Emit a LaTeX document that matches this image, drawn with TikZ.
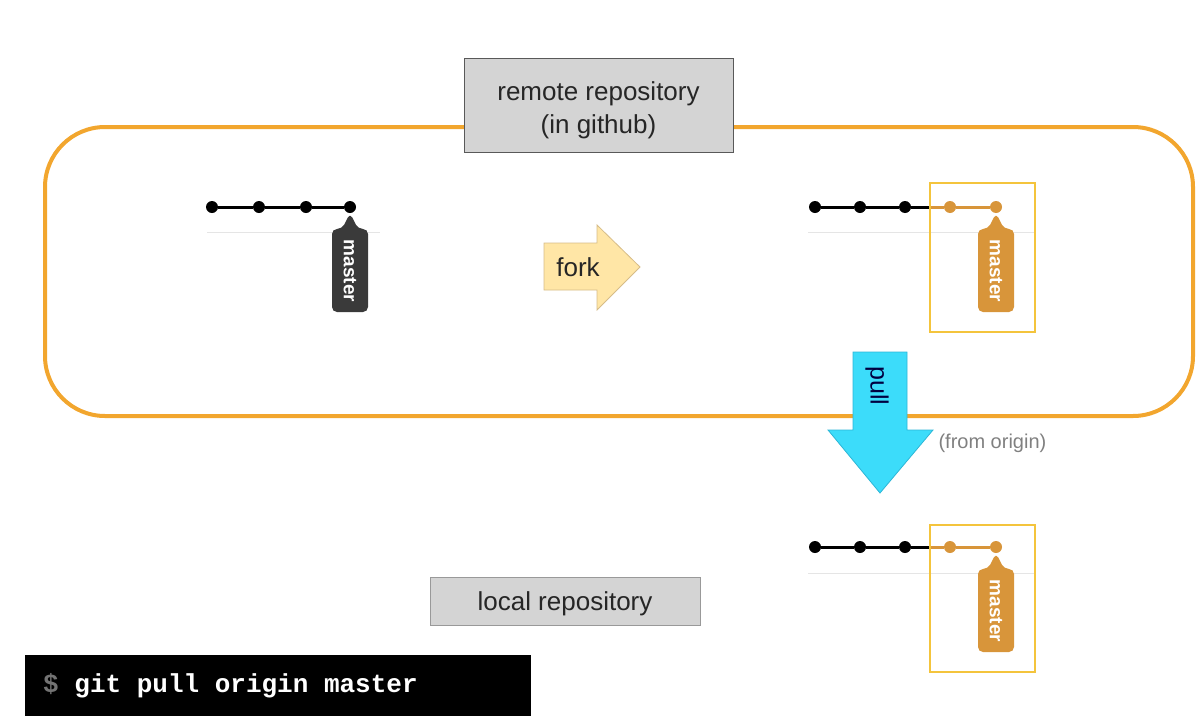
\documentclass[tikz,border=0pt]{standalone}
\usepackage{fontspec}
\setmainfont{Liberation Sans}
\newfontfamily\codefont{Liberation Mono}
\usetikzlibrary{calc}

\definecolor{loopc}{HTML}{F2A62E}
\definecolor{newc}{HTML}{D8953A}
\definecolor{newbox}{HTML}{F4C43C}
\definecolor{tagdark}{HTML}{3A3A3A}
\definecolor{forkfill}{HTML}{FFE6A6}
\definecolor{forkline}{HTML}{D6BC88}
\definecolor{pullfill}{HTML}{3CDCFA}
\definecolor{pullline}{HTML}{2CB6D6}

% branch tag hanging under a commit: #1 commit node, #2 colour
\newcommand\mastertag[2]{%
  \begin{scope}[shift={(#1)}]
    \fill[#2,rounded corners=5pt] (-8,22) -- (0,6) -- (8,22) -- (18,22) -- (18,105) -- (-18,105) -- (-18,22) -- cycle;
    \node (#1tag) [rotate=-90,text=white,font=\bfseries\fontsize{19}{19}\selectfont] at (0,64) {master};
  \end{scope}}
\newcommand\cmdsp{\hspace*{0.6em}}

\begin{document}
\begin{tikzpicture}[
  x=1pt, y=-1pt,
  commit/.style={circle,fill=black,inner sep=0pt,minimum size=12pt},
  newcommit/.style={commit,fill=newc},
  edge/.style={line width=3pt},
  base/.style={line width=1pt,black!10},
  newframe/.style={draw=newbox,line width=2.5pt},
  repo/.style={draw=#1,fill=black!17},
  lbl/.style={text=black!85,font=\fontsize{26}{33}\selectfont,align=center}
]
\useasboundingbox (0,0) rectangle (1200,726);

%========== remote side ==========
\draw[loopc,line width=4pt,rounded corners=60pt] (45,127) rectangle (1193,416);
\node (remote) [repo=black!65,minimum width=269pt,minimum height=94pt] at (598.5,105) {};
\node (remotetxt) [lbl] at ($(remote)+(0,5)$) {remote repository\\(in github)};

% original repository
\draw[base] (207,232) -- (380,232);
\foreach \i/\xx in {1/212,2/259,3/306,4/350}{\node[commit] (a\i) at (\xx,207) {};}
\draw[edge] (a1) -- (a2) -- (a3) -- (a4);
\mastertag{a4}{tagdark}

% fork arrow
\draw[forkline,fill=forkfill,line width=0.8pt]
  (544,243) -- (597,243) -- (597,225) -- (640,267) -- (597,310) -- (597,290) -- (544,290) -- cycle;
\node (fork) [lbl] at (578,267) {fork};

% forked repository
\draw[base] (808,232) -- (1035,232);
\foreach \i/\xx in {1/815,2/860,3/905}{\node[commit] (b\i) at (\xx,207) {};}
\foreach \i/\xx in {4/950,5/996}{\node[newcommit] (b\i) at (\xx,207) {};}
\coordinate (bcut) at (930,207);
\draw[edge] (b1) -- (b2) -- (b3) -- (bcut);
\draw[edge,newc] (bcut) -- (b4) -- (b5);
\mastertag{b5}{newc}
\draw[newframe] (930,183) rectangle (1035,332);

%========== pull ==========
\draw[pullline,fill=pullfill,line width=0.8pt]
  (853,352) -- (907,352) -- (907,430) -- (933,430) -- (880,493) -- (828,430) -- (853,430) -- cycle;
\node (pull) [rotate=-90,text=blue!25!black,font=\fontsize{25}{25}\selectfont] at (877,386) {pull};
\node (origin) [anchor=west,text=black!50,font=\fontsize{20}{20}\selectfont] at (935,443) {(from origin)};

%========== local side ==========
\draw[base] (808,573) -- (1035,573);
\foreach \i/\xx in {1/815,2/860,3/905}{\node[commit] (c\i) at (\xx,547) {};}
\foreach \i/\xx in {4/950,5/996}{\node[newcommit] (c\i) at (\xx,547) {};}
\coordinate (ccut) at (930,547);
\draw[edge] (c1) -- (c2) -- (c3) -- (ccut);
\draw[edge,newc] (ccut) -- (c4) -- (c5);
\mastertag{c5}{newc}
\draw[newframe] (930,525) rectangle (1035,672);

\node (local) [repo=black!40,minimum width=270pt,minimum height=48pt] at (565,601) {};
\node (localtxt) [lbl] at ($(local)+(0,3)$) {local repository};

% command
\node (cmd) [anchor=north west,fill=black,minimum width=506pt,minimum height=61pt,
  inner xsep=18pt,text width=470pt,align=left,text=white,
  font=\codefont\bfseries\fontsize{26}{26}\selectfont] at (25,655)
  {\textcolor{black!55}{\$}\cmdsp git\cmdsp pull\cmdsp origin\cmdsp master};
\end{tikzpicture}
\end{document}
